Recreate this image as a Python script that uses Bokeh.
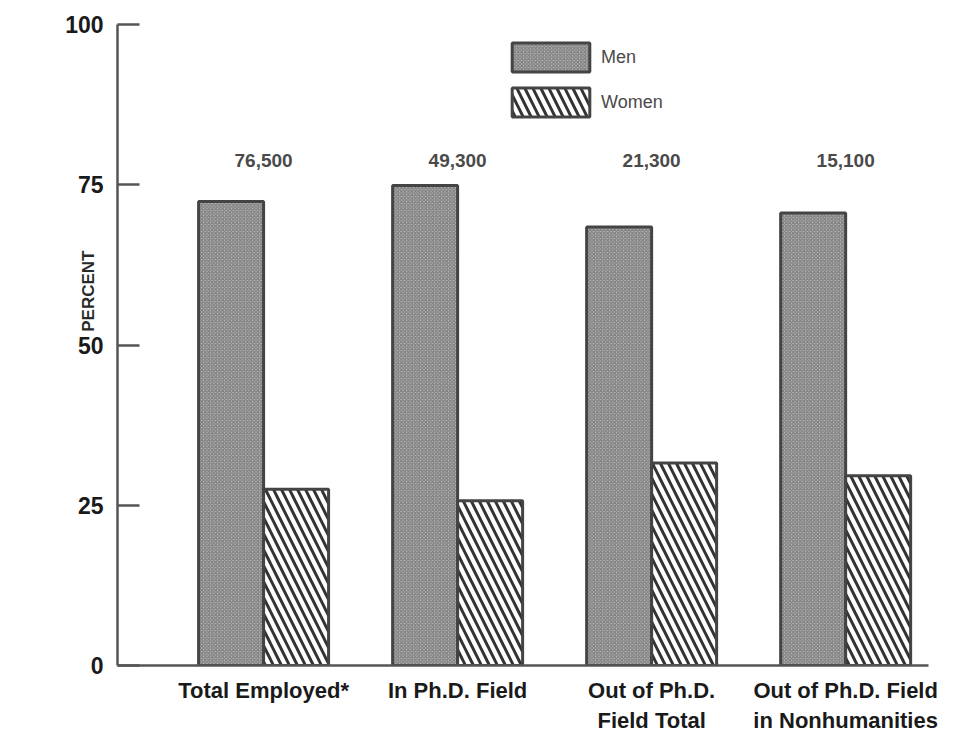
import numpy as np
from bokeh.plotting import figure
from bokeh.models import (Range1d, FixedTicker, Legend, LegendItem, Label,
                          ColumnDataSource)
from bokeh.core.properties import value
from bokeh.embed import file_html
from bokeh.resources import INLINE

# ---- data ----
categories = ["Total Employed*", "In Ph.D. Field",
              "Out of Ph.D.\nField Total", "Out of Ph.D. Field\nin Nonhumanities"]
men = [72.4, 74.9, 68.4, 70.6]
women = [27.5, 25.7, 31.6, 29.6]
counts = ["76,500", "49,300", "21,300", "15,100"]
y_ticks = [0, 25, 50, 75, 100]

FONT = "Liberation Sans"
idx = np.arange(len(categories))
bw = 0.335

p = figure(width=960, height=735, output_backend="svg", toolbar_location=None,
           x_range=Range1d(-0.753, 3.427), y_range=Range1d(0, 100),
           min_border_left=117, min_border_right=32, min_border_top=24,
           min_border_bottom=70)
p.outline_line_color = None
p.grid.visible = False
p.background_fill_color = "white"
p.border_fill_color = "white"

src = ColumnDataSource(dict(x=idx, men=men, women=women, counts=counts,
                            xm=idx - bw / 2, xw=idx + bw / 2,
                            ly=[78.8] * len(idx)))

r_men = p.vbar(x="xm", top="men", width=bw, bottom=0, source=src,
               fill_color="#b4b4b4", line_color="#444444", line_width=3,
               hatch_pattern="diagonal_cross", hatch_scale=3.5,
               hatch_color="#747474", hatch_weight=1)
r_women = p.vbar(x="xw", top="women", width=bw, bottom=0, source=src,
                 fill_color="white", line_color="#444444", line_width=3,
                 hatch_pattern="left_diagonal_line", hatch_scale=16,
                 hatch_color="#333333", hatch_weight=3)

p.text(x="x", y="ly", text="counts", source=src, text_align="center",
       text_baseline="alphabetic", text_font=value(FONT),
       text_font_size="19px", text_font_style="bold", text_color="#4a4a4a")

# y axis
ya = p.yaxis[0]
ya.ticker = FixedTicker(ticks=y_ticks)
ya.major_tick_in = 22
ya.major_tick_out = 0
ya.minor_tick_line_color = None
ya.major_tick_line_color = "#555555"
ya.major_tick_line_width = 2.5
ya.axis_line_color = "#555555"
ya.axis_line_width = 2.5
ya.major_label_text_font = FONT
ya.major_label_text_font_style = "bold"
ya.major_label_text_font_size = "23px"
ya.major_label_text_color = "#1a1a1a"
ya.major_label_standoff = 14

# x axis
xa = p.xaxis[0]
xa.ticker = FixedTicker(ticks=list(idx))
xa.major_label_overrides = {int(i): c for i, c in zip(idx, categories)}
xa.major_tick_line_color = None
xa.minor_tick_line_color = None
xa.axis_line_color = "#555555"
xa.axis_line_width = 2.5
xa.major_label_text_font = FONT
xa.major_label_text_font_style = "bold"
xa.major_label_text_font_size = "22px"
xa.major_label_text_color = "#1a1a1a"
xa.major_label_standoff = 6

p.add_layout(Label(x=-0.902, y=58.4, text="PERCENT", angle=np.pi / 2,
                   text_align="center", text_baseline="middle",
                   text_font=FONT, text_font_style="bold",
                   text_font_size="17px", text_color="#2a2a2a"), "left")

legend = Legend(items=[LegendItem(label="Men", renderers=[r_men]),
                       LegendItem(label="Women", renderers=[r_women])],
                location=(385, 545), glyph_width=97, glyph_height=36,
                spacing=9, padding=0, margin=0, label_standoff=2,
                border_line_color=None, background_fill_alpha=0,
                label_text_font=FONT, label_text_font_size="18px",
                label_text_color="#4a4a4a")
p.add_layout(legend)

open("out.html", "w").write(file_html(p, INLINE))
